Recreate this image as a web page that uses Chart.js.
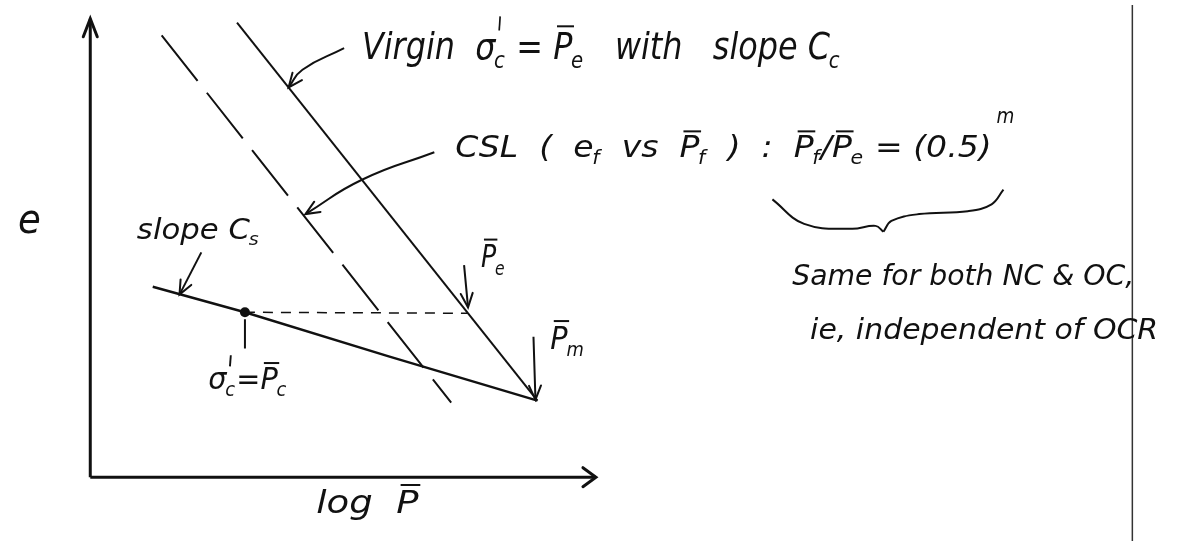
<!DOCTYPE html>
<html>
<head>
<meta charset="utf-8">
<title>e – log p̄</title>
<script src="https://cdn.jsdelivr.net/npm/chart.js@4.4.1/dist/chart.umd.min.js"></script>
<style>
  html, body { margin: 0; padding: 0; background: #fff; }
  #wrap { width: 1178px; height: 546px; position: relative; }
</style>
</head>
<body>
<div id="wrap"><canvas id="sketch"></canvas></div>
<script>
// units: x = log p̄, y = e (arbitrary), origin at the corner of the axes
const axisY = [{x: 0, y: 0}, {x: 0, y: 46.7}];
const axisX = [{x: 0, y: 0}, {x: 51.0, y: 0}];

// virgin compression line, slope Cc
const virgin = [{x: 14.8, y: 46.3}, {x: 45.1, y: 7.8}];
// critical state line
const csl = [{x: 7.2, y: 45.0}, {x: 36.4, y: 7.6}];
// swelling line (slope Cs) through σ'c, on to p̄m
const swell = [{x: 6.3, y: 19.4}, {x: 15.6, y: 16.8}, {x: 30.1, y: 12.3}, {x: 45.1, y: 7.8}];
const preconPoint = [{x: 15.6, y: 16.8}];
const preconDash = [{x: 15.6, y: 16.8}, {x: 38.1, y: 16.7}];
const preconTick = [{x: 15.6, y: 16.1}, {x: 15.6, y: 13.1}];

// pointer arrows (last point is the tip)
const arrowPe = [{x: 37.7, y: 21.6}, {x: 38.1, y: 17.3}];
const arrowPm = [{x: 44.7, y: 14.3}, {x: 44.9, y: 7.9}];
const arrowCs = [{x: 11.2, y: 22.9}, {x: 9.0, y: 18.6}];
const leaderVirgin = [{x: 25.6, y: 43.7}, {x: 21.4, y: 41.5}, {x: 20.0, y: 39.7}];
const leaderCsl = [{x: 34.7, y: 33.1}, {x: 27.4, y: 30.3}, {x: 21.7, y: 26.8}];

// brace under the ratio
const braceLeft = [{x: 68.8, y: 28.3}, {x: 72.0, y: 25.8}, {x: 76.8, y: 25.3}, {x: 79.2, y: 25.6}, {x: 80.0, y: 25.0}];
const braceRight = [{x: 80.0, y: 25.0}, {x: 80.8, y: 26.1}, {x: 83.6, y: 26.8}, {x: 88.5, y: 27.1}, {x: 90.9, y: 27.8}, {x: 92.1, y: 29.3}];

// page rule on the right
const pageRule = [{x: 105.1, y: -6.5}, {x: 105.1, y: 48.1}];

// lettering: each line is fitted between x0 and x1 on baseline y
const text = (x0, x1, y, size, parts) => ({x0, x1, y, size, parts});
const labels = [
  text(27.4, 75.7, 42.6, 38, [
    {t: 'Virgin  '}, {t: 'σ', prime: true, sub: 'c'}, {t: ' = '}, {t: 'P', bar: true, sub: 'e'},
    {t: '   with   slope '}, {t: 'C', sub: 'c'}]),
  text(36.8, 90.9, 32.6, 30, [
    {t: 'CSL  (  '}, {t: 'e', sub: 'f'}, {t: '  vs  '}, {t: 'P', bar: true, sub: 'f'}, {t: '  )  :  '},
    {t: 'P', bar: true, sub: 'f'}, {t: '/'}, {t: 'P', bar: true, sub: 'e'}, {t: ' = (0.5)'}]),
  text(91.4, 93.2, 36.1, 22, [{t: 'm'}]),
  text(4.7, 17.1, 24.3, 28, [{t: 'slope '}, {t: 'C', sub: 's'}]),
  text(39.4, 41.9, 21.4, 32, [{t: 'P', bar: true, sub: 'e'}]),
  text(46.4, 49.9, 13.1, 32, [{t: 'P', bar: true, sub: 'm'}]),
  text(11.9, 19.9, 9.0, 30, [{t: 'σ', prime: true, sub: 'c'}, {t: '='}, {t: 'P', bar: true, sub: 'c'}]),
  text(-7.3, -5.0, 24.9, 40, [{t: 'e'}]),
  text(22.8, 33.1, -3.6, 32, [{t: 'log  '}, {t: 'P', bar: true}]),
  text(70.8, 105.3, 19.6, 28, [{t: 'Same for both NC & OC,'}]),
  text(72.6, 107.7, 14.1, 28, [{t: 'ie, independent of OCR'}])
];

const ink = '#111';

function line(data, extra) {
  return Object.assign({
    data: data, showLine: true, borderColor: ink, borderWidth: 2,
    pointRadius: 0, tension: 0, fill: false
  }, extra || {});
}

const fontOf = s => 'italic ' + s + 'px "DejaVu Sans"';

function partWidth(ctx, p, size) {
  ctx.font = fontOf(size);
  const w = ctx.measureText(p.t).width;
  ctx.font = fontOf(size * 0.62);
  return w + (p.sub ? ctx.measureText(p.sub).width : 0);
}

function drawLabel(ctx, lab, xs, ys) {
  const size = lab.size;
  const natural = lab.parts.reduce((s, p) => s + partWidth(ctx, p, size), 0);
  const px0 = xs.getPixelForValue(lab.x0);
  const px1 = xs.getPixelForValue(lab.x1);
  ctx.save();
  ctx.translate(px0, ys.getPixelForValue(lab.y));
  ctx.scale((px1 - px0) / natural, 1);
  ctx.fillStyle = ink;
  ctx.strokeStyle = ink;
  ctx.lineWidth = 2;
  ctx.textBaseline = 'alphabetic';
  let cx = 0;
  for (const p of lab.parts) {
    ctx.font = fontOf(size);
    const w = ctx.measureText(p.t).width;
    ctx.fillText(p.t, cx, 0);
    if (p.bar) {
      ctx.beginPath();
      ctx.moveTo(cx + size * 0.12, -size * 0.86);
      ctx.lineTo(cx + w + size * 0.05, -size * 0.86);
      ctx.stroke();
    }
    if (p.prime) {
      ctx.beginPath();
      ctx.moveTo(cx + w + size * 0.12, -size * 0.75);
      ctx.lineTo(cx + w + size * 0.15, -size * 1.12);
      ctx.stroke();
    }
    if (p.sub) {
      ctx.font = fontOf(size * 0.62);
      ctx.fillText(p.sub, cx + w - size * 0.04, size * 0.24);
    }
    cx += partWidth(ctx, p, size);
  }
  ctx.restore();
}

// open "V" heads on datasets flagged with head, plus all the lettering
const sketchPlugin = {
  id: 'sketch',
  afterDatasetsDraw(chart) {
    const ctx = chart.ctx;
    chart.data.datasets.forEach((ds, i) => {
      if (!ds.head) return;
      const pts = chart.getDatasetMeta(i).data;
      const tip = pts[pts.length - 1];
      let fx, fy;
      if (ds.tension > 0 && tip.cp1x !== undefined) {
        fx = tip.cp1x; fy = tip.cp1y;
      } else {
        fx = pts[pts.length - 2].x; fy = pts[pts.length - 2].y;
      }
      const dx = tip.x - fx, dy = tip.y - fy;
      const d = Math.hypot(dx, dy) || 1;
      const ux = dx / d, uy = dy / d;
      const [len, half] = ds.head;
      ctx.save();
      ctx.strokeStyle = ink;
      ctx.lineWidth = ds.borderWidth;
      ctx.lineCap = 'round';
      ctx.beginPath();
      ctx.moveTo(tip.x - len * ux - half * uy, tip.y - len * uy + half * ux);
      ctx.lineTo(tip.x, tip.y);
      ctx.lineTo(tip.x - len * ux + half * uy, tip.y - len * uy - half * ux);
      ctx.stroke();
      ctx.restore();
    });
    const xs = chart.scales.x, ys = chart.scales.y;
    labels.forEach(lab => drawLabel(ctx, lab, xs, ys));
  }
};

new Chart(document.getElementById('sketch'), {
  type: 'scatter',
  data: {
    datasets: [
      line(axisY, {borderWidth: 3, head: [18, 7]}),
      line(axisX, {borderWidth: 3, head: [13, 9.5]}),
      line(virgin),
      line(csl, {borderDash: [58, 15]}),
      line(swell, {borderWidth: 2.4}),
      line(preconDash, {borderWidth: 1.5, borderDash: [10, 8]}),
      line(preconTick),
      line(preconPoint, {showLine: false, pointRadius: 5, pointBackgroundColor: ink, pointBorderWidth: 0}),
      line(arrowPe, {head: [14, 6]}),
      line(arrowPm, {head: [14, 6]}),
      line(arrowCs, {head: [14, 6]}),
      line(leaderVirgin, {tension: 0.5, head: [14, 6]}),
      line(leaderCsl, {tension: 0.5, head: [14, 6]}),
      line(braceLeft, {tension: 0.4}),
      line(braceRight, {tension: 0.4}),
      line(pageRule, {borderWidth: 1.5, borderColor: '#333'})
    ]
  },
  options: {
    responsive: true,
    maintainAspectRatio: false,
    animation: false,
    events: [],
    layout: { padding: 0 },
    plugins: {
      legend: { display: false },
      tooltip: { enabled: false }
    },
    scales: {
      x: { type: 'linear', display: false, min: -8.6, max: 109.2 },
      y: { type: 'linear', display: false, min: -6.5, max: 48.1 }
    }
  },
  plugins: [sketchPlugin]
});
</script>
</body>
</html>
